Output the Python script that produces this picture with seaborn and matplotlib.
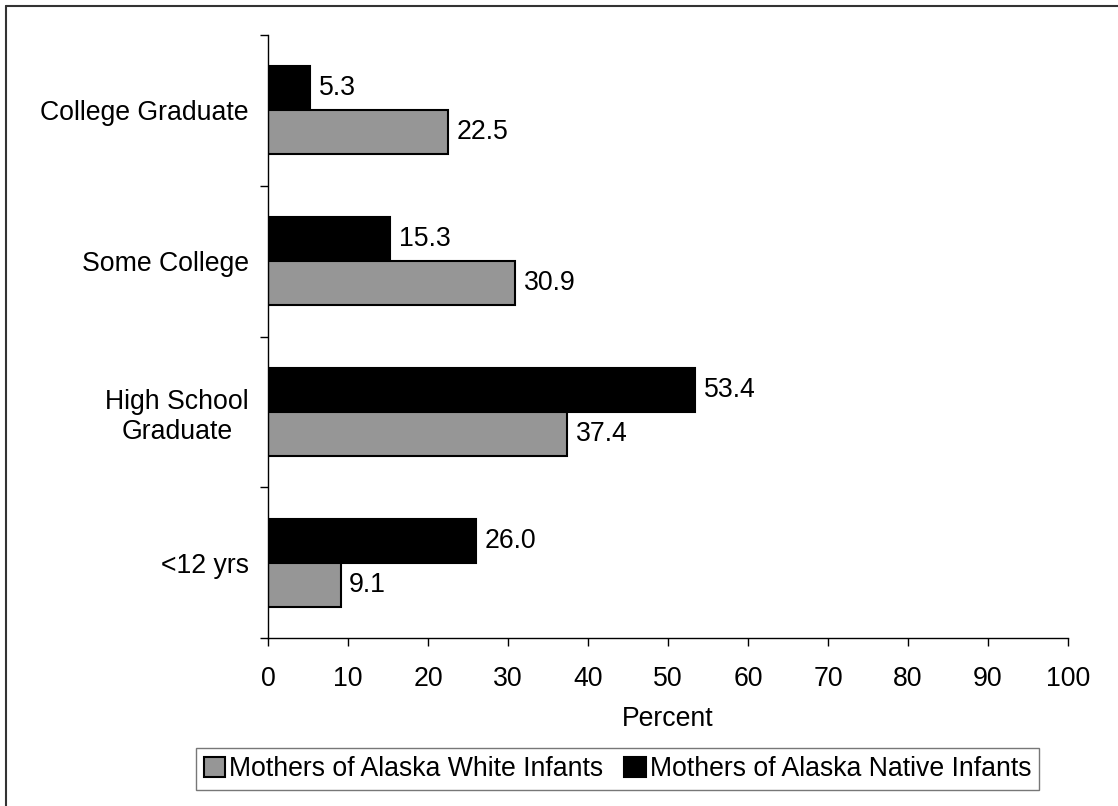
import matplotlib
matplotlib.use("Agg")
import matplotlib.pyplot as plt
from matplotlib.lines import Line2D
from matplotlib.patches import Patch
import seaborn as sns
import pandas as pd

categories = ["College Graduate", "Some College", "High School\nGraduate", "<12 yrs"]
series_names = ["Mothers of Alaska Native Infants", "Mothers of Alaska White Infants"]
native_values = [5.3, 15.3, 53.4, 26.0]
white_values = [22.5, 30.9, 37.4, 9.1]
x_ticks = [0, 10, 20, 30, 40, 50, 60, 70, 80, 90, 100]
x_label = "Percent"

colors = {"Mothers of Alaska Native Infants": "#000000",
          "Mothers of Alaska White Infants": "#969696"}

rows = []
for c, v in zip(categories, native_values):
    rows.append({"cat": c, "series": series_names[0], "val": v})
for c, v in zip(categories, white_values):
    rows.append({"cat": c, "series": series_names[1], "val": v})
df = pd.DataFrame(rows)

sns.set_theme(style="white")
plt.rcParams["font.family"] = ["Liberation Sans", "DejaVu Sans"]
plt.rcParams["text.color"] = "black"

FS = 19.2

fig = plt.figure(figsize=(11.18, 8.06), dpi=100)
ax = fig.add_axes([268/1118, 1 - 638/806, 800/1118, (638-35)/806])

sns.barplot(data=df, y="cat", x="val", hue="series", order=categories,
            hue_order=series_names, palette=colors, orient="h",
            width=0.583, gap=0, edgecolor="black", linewidth=1.5,
            ax=ax, legend=False, saturation=1)

for cont in ax.containers:
    ax.bar_label(cont, labels=[f"{v:.1f}" for v in cont.datavalues],
                 padding=6, fontsize=FS, color="black")

ax.set_xlim(0, 100)
ax.set_ylim(3.5, -0.5)
ax.set_xticks(x_ticks)
ax.set_xticklabels([str(t) for t in x_ticks], fontsize=FS, color="black")
ax.set_yticks(range(len(categories)))
ax.set_yticklabels(categories, fontsize=FS, color="black", multialignment="center")
ax.set_yticks([-0.5, 0.5, 1.5, 2.5, 3.5], minor=True)
ax.tick_params(axis="y", which="major", length=0, pad=14)
ax.tick_params(axis="y", which="minor", length=6, width=1, color="black", left=True, direction="out")
ax.tick_params(axis="x", which="major", length=6, width=1, color="black", bottom=True, direction="out", pad=14)
ax.set_xlabel(x_label, fontsize=FS, color="black", labelpad=10)
ax.set_ylabel("")

for s in ["top", "right"]:
    ax.spines[s].set_visible(False)
for s in ["left", "bottom"]:
    ax.spines[s].set_color("black")
    ax.spines[s].set_linewidth(1)

handles = [Patch(facecolor="#969696", edgecolor="black", linewidth=1.5),
           Patch(facecolor="#000000", edgecolor="black", linewidth=1.5)]
labels = ["Mothers of Alaska White Infants", "Mothers of Alaska Native Infants"]
leg = fig.legend(handles, labels, loc="center", bbox_to_anchor=(617.5/1118, 1 - 769/806),
                 ncol=2, fontsize=FS, frameon=True, fancybox=False,
                 handlelength=0.8, handleheight=0.8, handletextpad=0.15,
                 columnspacing=0.8, borderpad=0.3, edgecolor="#555555")
leg.get_frame().set_linewidth(1)

fig.add_artist(Line2D([5.5/1118, 1], [1 - 5.5/806, 1 - 5.5/806], transform=fig.transFigure,
                      color="#333333", linewidth=1.5))
fig.add_artist(Line2D([5.5/1118, 5.5/1118], [0, 1 - 5.5/806], transform=fig.transFigure,
                      color="#333333", linewidth=1.5))

fig.savefig("out.png", dpi=100, facecolor="white")
